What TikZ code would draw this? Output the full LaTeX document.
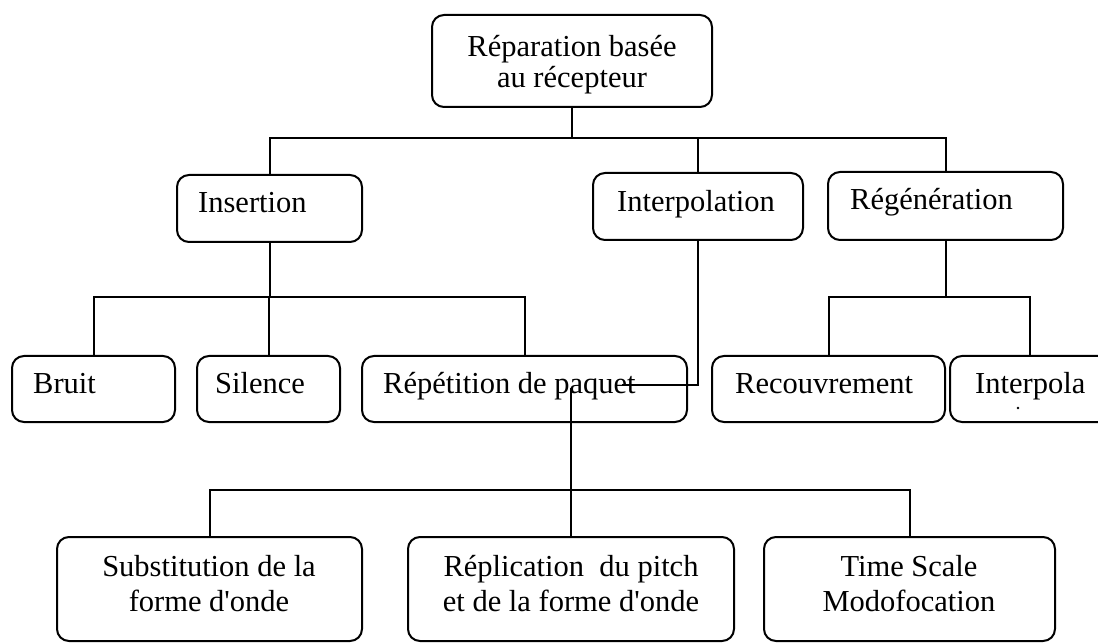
\documentclass[tikz,border=0pt]{standalone}
\usepackage{fontspec}
\setmainfont{Liberation Serif}
\begin{document}
\begin{tikzpicture}[x=1pt,y=-1pt,
  box/.style={draw,line width=2pt,rounded corners=12pt,inner sep=0pt,outer sep=0pt},
  conn/.style={line width=2pt},
  lbl/.style={inner sep=0pt,font=\fontsize{30.5}{31}\selectfont}]
\useasboundingbox (0,0) rectangle (1098,644);
\clip (0,0) rectangle (1098,644);
% boxes
\node[box,minimum width=280pt,minimum height=92pt] (top) at (572,61) {};
\node[box,minimum width=185pt,minimum height=67pt] (ins) at (269.5,208.5) {};
\node[box,minimum width=210pt,minimum height=67pt] (itp) at (698,206.5) {};
\node[box,minimum width=235pt,minimum height=68pt] (reg) at (945.5,206) {};
\node[box,minimum width=163pt,minimum height=66pt] (bru) at (93.5,389) {};
\node[box,minimum width=143pt,minimum height=66pt] (sil) at (268.5,389) {};
\node[box,minimum width=325pt,minimum height=66pt] (rep) at (524.5,389) {};
\node[box,minimum width=233pt,minimum height=66pt] (rec) at (828.5,389) {};
\node[box,minimum width=160pt,minimum height=66pt] (itpa) at (1030,389) {};
\node[box,minimum width=305pt,minimum height=104pt] (sub) at (209.5,589) {};
\node[box,minimum width=326pt,minimum height=104pt] (repl) at (571,589) {};
\node[box,minimum width=291pt,minimum height=104pt] (tsm) at (909.5,589) {};
% connectors
\coordinate (j1) at (0,138);
\coordinate (j2) at (0,297);
\coordinate (j3) at (0,490);
\coordinate (k) at (622,385);
\coordinate (s) at (571,388);
\draw[conn] (top.south) -- (top.south |- j1);
\draw[conn] (ins.north) -- (ins.north |- j1) -- (reg.north |- j1) -- (reg.north);
\draw[conn] (itp.north) -- (itp.north |- j1);
\draw[conn] (ins.south) -- (ins.south |- j2);
\draw[conn] (bru.north) -- (bru.north |- j2) -- (rep.north |- j2) -- (rep.north);
\draw[conn] (sil.north) -- (sil.north |- j2);
\draw[conn] (reg.south) -- (reg.south |- j2);
\draw[conn] (rec.north) -- (rec.north |- j2) -- (itpa.north |- j2) -- (itpa.north);
\draw[conn] (itp.south) |- (k);
\draw[conn] (s) -- (repl.north);
\draw[conn] (sub.north) -- (sub.north |- j3) -- (tsm.north |- j3) -- (tsm.north);
\fill (1018,408) circle (1.3pt);
% texts
\node[lbl,anchor=base] (t1) at (572,57) {Réparation basée};
\node[lbl,anchor=base] (t2) at (572,88) {au récepteur};
\node[lbl,anchor=base west] (t3) at (198,213) {Insertion};
\node[lbl,anchor=base west] (t4) at (617,212) {Interpolation};
\node[lbl,anchor=base west] (t5) at (850,210) {Régénération};
\node[lbl,anchor=base west] (t6) at (33,393) {Bruit};
\node[lbl,anchor=base west] (t7) at (215,393) {Silence};
\node[lbl,anchor=base west] (t8) at (383,393) {Répétition de paquet};
\node[lbl,anchor=base west] (t9) at (735,393) {Recouvrement};
\node[lbl,anchor=base west] (t10) at (975,393) {Interpola};
\node[lbl,anchor=base] (t11) at (209,576) {Substitution de la};
\node[lbl,anchor=base] (t12) at (209,611) {forme d\textquotesingle onde};
\node[lbl,anchor=base] (t13) at (571,576) {Réplication\hspace{0.25em} du pitch};
\node[lbl,anchor=base] (t14) at (571,611) {et de la forme d\textquotesingle onde};
\node[lbl,anchor=base] (t15) at (909,576) {Time Scale};
\node[lbl,anchor=base] (t16) at (909,611) {Modofocation};
\end{tikzpicture}
\end{document}
